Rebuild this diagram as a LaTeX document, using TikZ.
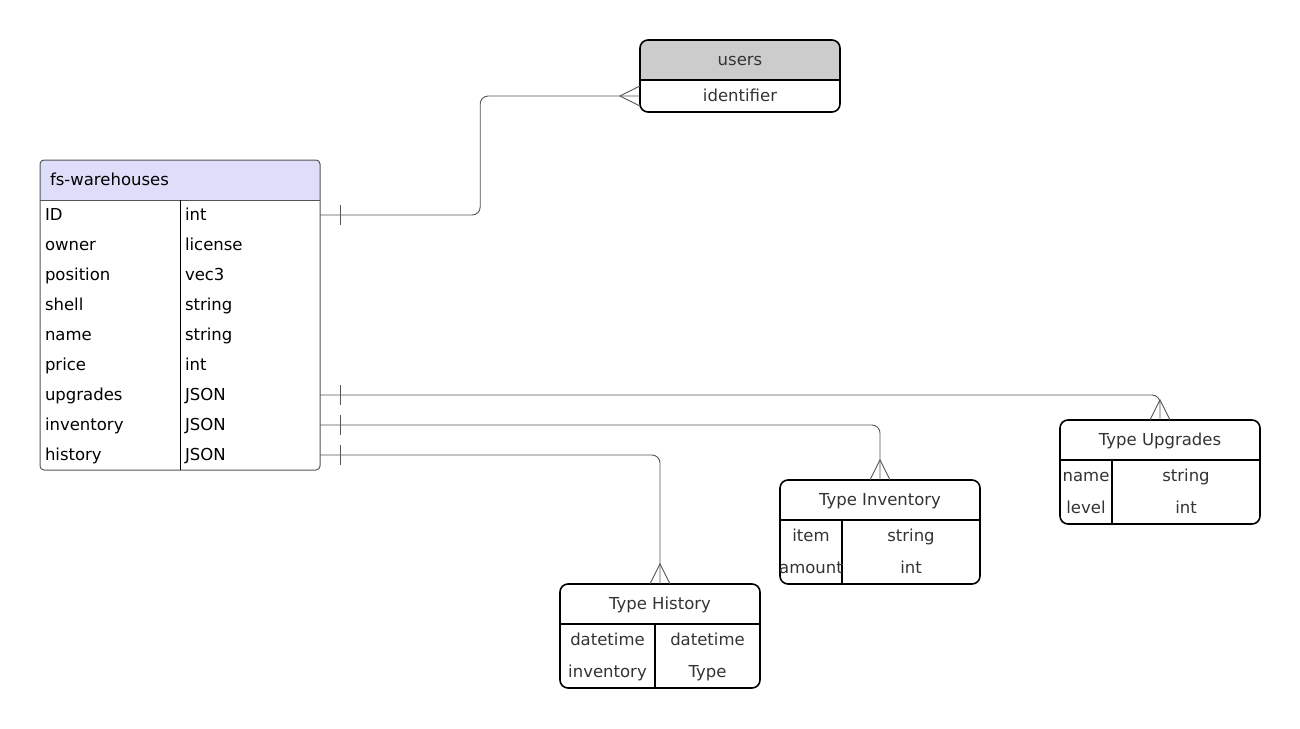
\documentclass[tikz,border=0pt]{standalone}
\usepackage{fontspec}
\setmainfont{DejaVu Sans}
\usetikzlibrary{calc}
\definecolor{hdrgray}{HTML}{CCCCCC}
\definecolor{hdrblue}{HTML}{DEDEFA}
\definecolor{txtgray}{HTML}{333333}
\definecolor{linegray}{HTML}{555555}
\tikzset{
  box/.style={draw, line width=1.6pt, rounded corners=8pt},
  rel/.style={draw=linegray, line width=0.9pt},
  cell/.style={inner sep=0pt, minimum height=32pt, text height=14pt, text depth=3pt, text=txtgray},
  rowcell/.style={text width=130pt, inner xsep=5pt, inner ysep=0pt, minimum height=30pt, text height=14pt, text depth=3pt, align=left},
}
\begin{document}
\begin{tikzpicture}[x=1pt, y=-1pt, font=\fontsize{16.5}{20}\selectfont]
    \useasboundingbox (0,0) rectangle (1300,728);
    % users
    \begin{scope}
        \clip[rounded corners=8pt] (640,40) rectangle (840,112);
        \fill[hdrgray] (640,40) rectangle (840,80);
    \end{scope}
    \draw[box] (640,40) rectangle (840,112);
    \draw[line width=1.6pt] (640,80) -- (840,80);
    \node[cell, minimum width=200pt, minimum height=40pt] (users) at (740,60) {users};
    \node[cell, minimum width=200pt] (users-id) at (740,96) {identifier};

    % fs-warehouses
    \begin{scope}
        \clip[rounded corners=4pt] (40,160) rectangle (320,470);
        \fill[hdrblue] (40,160) rectangle (320,200);
    \end{scope}
    \draw[linegray, line width=1pt, rounded corners=4pt] (40,160) rectangle (320,470);
    \draw[linegray, line width=1pt] (40,200) -- (320,200);
    \draw[line width=1pt] (180,200) -- (180,470);
    \node[rowcell, minimum height=40pt] (wh) at (115,180) {fs-warehouses};
    \foreach \fname/\ftype [count=\i] in {ID/int, owner/license, position/vec3, shell/string, name/string, price/int, upgrades/JSON, inventory/JSON, history/JSON}{
        \node[rowcell] (wh-\fname) at (110,185+30*\i) {\fname};
        \node[rowcell] (wh-\fname-type) at (250,185+30*\i) {\ftype};
    }

    % Type History
    \draw[box] (560,584) rectangle (760,688);
    \draw[line width=1.6pt] (560,624) -- (760,624);
    \draw[line width=1.6pt] (655,624) -- (655,688);
    \node[cell, minimum width=200pt, minimum height=40pt] (hist) at (660,604) {Type History};
    \node[cell, minimum width=95pt] (hist-dt) at (607.5,640) {datetime};
    \node[cell, minimum width=105pt] (hist-dt-type) at (707.5,640) {datetime};
    \node[cell, minimum width=95pt] (hist-inv) at (607.5,672) {inventory};
    \node[cell, minimum width=105pt] (hist-inv-type) at (707.5,672) {Type};

    % Type Inventory
    \draw[box] (780,480) rectangle (980,584);
    \draw[line width=1.6pt] (780,520) -- (980,520);
    \draw[line width=1.6pt] (842,520) -- (842,584);
    \node[cell, minimum width=200pt, minimum height=40pt] (inv) at (880,500) {Type Inventory};
    \node[cell, minimum width=62pt] (inv-item) at (811,536) {item};
    \node[cell, minimum width=138pt] (inv-item-type) at (911,536) {string};
    \node[cell, minimum width=62pt] (inv-amount) at (811,568) {amount};
    \node[cell, minimum width=138pt] (inv-amount-type) at (911,568) {int};

    % Type Upgrades
    \draw[box] (1060,420) rectangle (1260,524);
    \draw[line width=1.6pt] (1060,460) -- (1260,460);
    \draw[line width=1.6pt] (1112,460) -- (1112,524);
    \node[cell, minimum width=200pt, minimum height=40pt] (upg) at (1160,440) {Type Upgrades};
    \node[cell, minimum width=52pt] (upg-name) at (1086,476) {name};
    \node[cell, minimum width=148pt] (upg-name-type) at (1186,476) {string};
    \node[cell, minimum width=52pt] (upg-level) at (1086,508) {level};
    \node[cell, minimum width=148pt] (upg-level-type) at (1186,508) {int};

    % relations
    \draw[rel, rounded corners=8pt] (wh-ID-type.east) -- ++(160,0) |- (users-id.west);
    \draw[rel, rounded corners=8pt] (wh-upgrades-type.east) -| (upg.north);
    \draw[rel, rounded corners=8pt] (wh-inventory-type.east) -| (inv.north);
    \draw[rel, rounded corners=8pt] (wh-history-type.east) -| (hist.north);
    \foreach \f in {ID,upgrades,inventory,history}{
        \draw[rel] ($(wh-\f-type.east)+(20,-10)$) -- ++(0,20);
    }
    \draw[rel] ($(users-id.west)+(0,-10)$) -- ++(-20,10) -- ++(20,10);
    \foreach \t in {upg,inv,hist}{
        \draw[rel] ($(\t.north)+(-10,0)$) -- ++(10,-20) -- ++(10,20);
    }
\end{tikzpicture}
\end{document}
